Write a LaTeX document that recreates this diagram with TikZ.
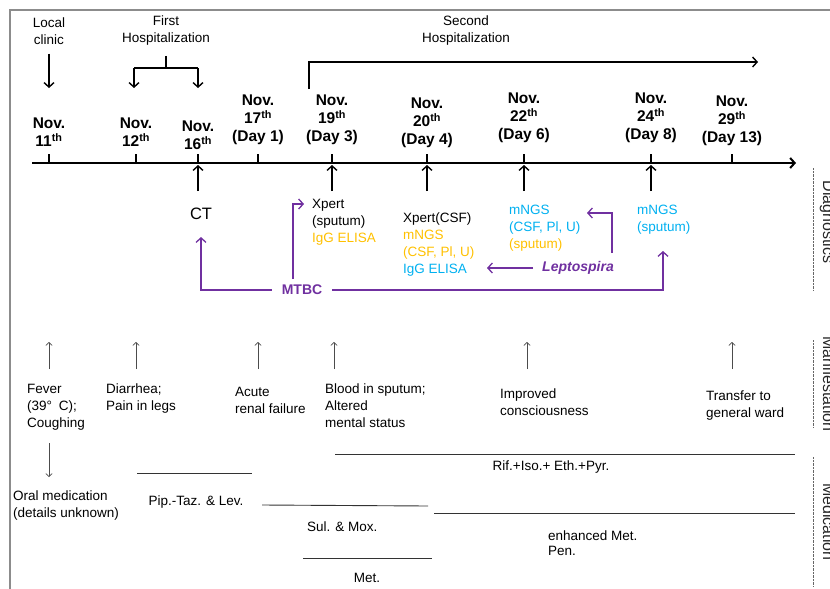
\documentclass[tikz,border=0pt]{standalone}
\usepackage{fontspec}
\setmainfont{Liberation Sans}
\usepackage{tikz}
\usetikzlibrary{arrows, arrows.meta, positioning}
\definecolor{mtbpurple}{RGB}{112,48,160}
\definecolor{ngsblue}{RGB}{0,176,240}
\definecolor{ngsgold}{RGB}{255,192,0}

\begin{document}
\begin{tikzpicture}[x=1pt,y=-1pt,>={Straight Barb[length=4.5pt,width=10pt]}]
  \tikzstyle{txt}=[font=\fontsize{13.5}{17}\selectfont,align=left,inner sep=0pt]
  \tikzstyle{date}=[font=\fontsize{15.5}{18}\selectfont\bfseries,align=center,inner sep=0pt]
  \tikzstyle{blk}=[line width=1.4pt]
  \tikzstyle{pur}=[line width=1.3pt,mtbpurple,->]
  \tikzstyle{sym}=[line width=0.7pt,black!70,-{Straight Barb[length=3pt,width=6.5pt]}]
  \tikzstyle{med}=[line width=0.9pt,black!80]
  \tikzstyle{side}=[font=\fontsize{16}{19}\selectfont,black!85,rotate=-90,anchor=base,inner sep=0pt]

  \useasboundingbox (0,0) rectangle (830,589);
  \clip (0,0) rectangle (830,589);
  \draw[black!45,line width=1.2pt] (10,589) -- (10,10) -- (830,10);

  % stays
  \node[txt,align=center] (clinic) at (49,31)  {Local\\clinic};
  \node[txt,align=center] (first)  at (166,31) {First\\Hospitalization};
  \node[txt,align=center] (second) at (466,31) {Second\\Hospitalization};

  \coordinate (c11) at (49,88);
  \coordinate (fh)  at (166,68);
  \coordinate (fhL) at (134,68);
  \coordinate (fhR) at (198,68);
  \coordinate (f12) at (134,88);
  \coordinate (f16) at (198,88);
  \coordinate (s0)  at (309,89);
  \coordinate (s1)  at (309,62);
  \coordinate (s2)  at (758,62);

  \draw[blk,->,shorten <=9pt] (clinic) -- (c11);
  \draw[blk,shorten <=10pt]   (first) -- (fh);
  \draw[blk]                  (fhL) -- (fhR);
  \draw[blk,->]               (fhL) -- (f12);
  \draw[blk,->]               (fhR) -- (f16);
  \draw[blk,->]               (s0) -- (s1) -- (s2);

  % timeline
  \coordinate (axL) at (32,163);
  \coordinate (axR) at (796,163);
  \foreach \n/\x in {11/49,12/136,16/198,17/258,19/332,20/427,22/524,24/651,29/732} {
    \coordinate (t\n) at (\x,163);
    \coordinate (u\n) at (\x,191);
    \draw[line width=1.5pt] (t\n) -- ++(0,-9);
  }
  \draw[line width=2pt,->] (axL) -- (axR);

  \node[date] (n11) [above=16pt of t11] {Nov.\\11\textsuperscript{th}};
  \node[date] (n12) [above=16pt of t12] {Nov.\\12\textsuperscript{th}};
  \node[date] (n16) [above=13pt of t16] {Nov.\\16\textsuperscript{th}};
  \node[date] (n17) [above=18pt of t17] {Nov.\\17\textsuperscript{th}\\(Day 1)};
  \node[date] (n19) [above=18pt of t19] {Nov.\\19\textsuperscript{th}\\(Day 3)};
  \node[date] (n20) [above=15pt of t20] {Nov.\\20\textsuperscript{th}\\(Day 4)};
  \node[date] (n22) [above=20pt of t22] {Nov.\\22\textsuperscript{th}\\(Day 6)};
  \node[date] (n24) [above=20pt of t24] {Nov.\\24\textsuperscript{th}\\(Day 8)};
  \node[date] (n29) [above=17pt of t29] {Nov.\\29\textsuperscript{th}\\(Day 13)};

  \foreach \n in {16,19,20,22,24}
    \draw[blk,->,shorten >=2pt] (u\n) -- (t\n);

  % diagnostics
  \node[txt,font=\fontsize{16.5}{20}\selectfont] (ct) at (201,214) {CT};
  \node[txt,anchor=north west] (xp1) at (312,199)
    {Xpert\\(sputum)\\\textcolor{ngsgold}{IgG ELISA}};
  \node[txt,anchor=north west] (xp2) at (403,213)
    {Xpert(CSF)\\\textcolor{ngsgold}{mNGS}\\\textcolor{ngsgold}{(CSF, Pl, U)}\\\textcolor{ngsblue}{IgG ELISA}};
  \node[txt,anchor=north west,text=ngsblue] (ngs1) at (509,205)
    {mNGS\\(CSF, Pl, U)\\\textcolor{ngsgold}{(sputum)}};
  \node[txt,anchor=north west,text=ngsblue] (ngs2) at (637,205) {mNGS\\(sputum)};

  \node[txt,font=\fontsize{14}{17}\selectfont\bfseries,text=mtbpurple] (mtbc) at (302,290) {MTBC};
  \node[txt,font=\fontsize{14}{17}\selectfont\bfseries\itshape,text=mtbpurple] (lepto) at (578,268) {Leptospira};

  \coordinate (mx0)    at (293,279);
  \coordinate (xin)    at (304,204);
  \coordinate (ngs2in) at (663,251);
  \coordinate (cgin)   at (487,268);
  \coordinate (lx0)    at (612,253);
  \coordinate (ngsin)  at (587,213);

  \draw[pur,shorten <=10pt,shorten >=17pt] (mtbc.west) -| (ct.south);
  \draw[pur]                               (mx0) |- (xin);
  \draw[pur,shorten <=10pt]                (mtbc.east) -| (ngs2in);
  \draw[pur,shorten <=9pt]                 (lepto.west) -- (cgin);
  \draw[pur]                               (lx0) |- (ngsin);

  % manifestation
  \foreach \x [count=\i] in {49,136,258,334,527,732} {
    \coordinate (mb\i) at (\x,369);
    \coordinate (mt\i) at (\x,342);
    \draw[sym] (mb\i) -- (mt\i);
  }
  \node[txt,anchor=north west] (fever)   at (27,384)  {Fever\\(39°\enspace C);\\Coughing};
  \node[txt,anchor=north west] (diarr)   at (106,384) {Diarrhea;\\Pain in legs};
  \node[txt,anchor=north west] (renal)   at (235,387) {Acute\\renal failure};
  \node[txt,anchor=north west] (blood)   at (325,384) {Blood in sputum;\\Altered\\mental status};
  \node[txt,anchor=north west] (consc)   at (500,389) {Improved\\consciousness};
  \node[txt,anchor=north west] (ward)    at (706,391) {Transfer to\\general ward};

  % medication
  \coordinate (od0) at (49,443);
  \coordinate (od1) at (49,477);
  \draw[sym] (od0) -- (od1);
  \node[txt,anchor=north west] (oral) at (13,491) {Oral medication\\(details unknown)};

  \coordinate (pipL) at (137,473); \coordinate (pipR) at (252,473);
  \coordinate (sulL) at (262,505); \coordinate (sulR) at (428,506);
  \coordinate (metL) at (303,558); \coordinate (metR) at (432,558);
  \coordinate (rifL) at (335,454); \coordinate (rifR) at (795,454);
  \coordinate (enhL) at (434,513); \coordinate (enhR) at (795,513);
  \foreach \d in {pip,sul,met,rif,enh}
    \draw[med] (\d L) -- (\d R);

  \node[txt] (pip) at (196,502) {Pip.-Taz. \& Lev.};
  \node[txt,anchor=west] (sul) at (307,527) {Sul. \& Mox.};
  \node[txt] (met) at (367,578) {Met.};
  \node[txt] (rif) at (551,467) {Rif.+Iso.+ Eth.+Pyr.};
  \node[txt,anchor=north west,font=\fontsize{13.5}{15}\selectfont] (enh) at (548,531) {enhanced Met.\\Pen.};

  % rows
  \draw[black!60,densely dotted] (813,168) -- (813,290);
  \draw[black!60,densely dotted] (813,340) -- (813,428);
  \draw[black!60,densely dotted] (813,457) -- (813,586);
  \node[side] (diag) at (823,222) {Diagnostics};
  \node[side] (mani) at (823,384) {Manifestation};
  \node[side] (medi) at (823,522) {Medication};
\end{tikzpicture}
\end{document}
